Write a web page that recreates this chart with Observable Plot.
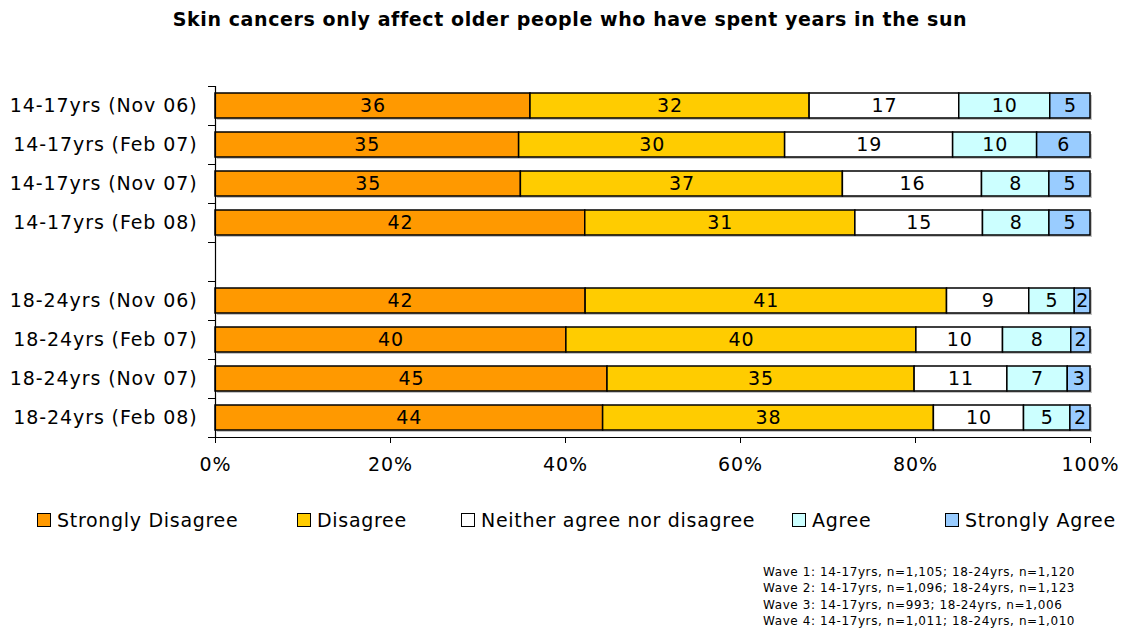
<!DOCTYPE html>
<html>
<head>
<meta charset="utf-8">
<script src="https://cdn.jsdelivr.net/npm/d3@7"></script>
<script src="https://cdn.jsdelivr.net/npm/@observablehq/plot@0.6"></script>
<style>
  html, body { margin: 0; padding: 0; background: #fff; }
  body { width: 1126px; height: 629px; position: relative; font-family: "DejaVu Sans", Verdana, sans-serif; color: #000; overflow: hidden; }
  #title { position: absolute; top: 8px; left: 0; width: 1140px; text-align: center; font-weight: bold; font-size: 19px; letter-spacing: 0.6px; }
  #chart { position: absolute; top: 40px; left: 0; }
  #legend { position: absolute; top: 506px; left: 0; width: 1126px; height: 28px; font-size: 19px; letter-spacing: 0.7px; }
  .item { position: absolute; top: 0; display: flex; align-items: center; height: 28px; }
  .sw { width: 12px; height: 12px; border: 1.5px solid #000; margin-right: 6px; }
  #caption { position: absolute; top: 564px; left: 763px; font-size: 12px; letter-spacing: 0.6px; line-height: 16.4px; }
  #chart svg text { letter-spacing: 0.9px; }
</style>
</head>
<body>
<div id="title"></div>
<div id="chart"></div>
<div id="legend"></div>
<div id="caption"></div>
<script>
const titleText = "Skin cancers only affect older people who have spent years in the sun";
const rows = [
  "14-17yrs (Nov 06)", "14-17yrs (Feb 07)", "14-17yrs (Nov 07)", "14-17yrs (Feb 08)",
  "18-24yrs (Nov 06)", "18-24yrs (Feb 07)", "18-24yrs (Nov 07)", "18-24yrs (Feb 08)"
];
const categories = ["Strongly Disagree", "Disagree", "Neither agree nor disagree", "Agree", "Strongly Agree"];
const colors = ["#FF9900", "#FFCC00", "#FFFFFF", "#CCFFFF", "#99CCFF"];
// percentages (labels show them rounded)
const stronglyDisagree = [36.0, 34.7, 34.9, 42.3, 42.3, 40.1, 44.8, 44.3];
const disagree        = [31.9, 30.4, 36.8, 30.9, 41.3, 40.0, 35.1, 37.8];
const neither         = [17.1, 19.2, 15.9, 14.6, 9.4, 9.9, 10.6, 10.3];
const agree           = [10.4, 9.6, 7.7, 7.6, 5.2, 7.8, 6.9, 5.3];
const stronglyAgree   = [4.6, 6.1, 4.7, 4.7, 1.8, 2.2, 2.6, 2.3];
const xTicks = [0, 0.2, 0.4, 0.6, 0.8, 1];
const captionLines = [
  "Wave 1: 14-17yrs, n=1,105; 18-24yrs, n=1,120",
  "Wave 2: 14-17yrs, n=1,096; 18-24yrs, n=1,123",
  "Wave 3: 14-17yrs, n=993; 18-24yrs, n=1,006",
  "Wave 4: 14-17yrs, n=1,011; 18-24yrs, n=1,010"
];

const series = [stronglyDisagree, disagree, neither, agree, stronglyAgree];
const data = [];
rows.forEach((r, i) => categories.forEach((c, j) => data.push({row: r, cat: c, value: series[j][i]})));
const totals = rows.map((r) => ({row: r, value: 1}));

const gap = " ";
const yDomain = [...rows.slice(0, 4), gap, ...rows.slice(4)];

const marginTop = 46, marginBottom = 46, height = 443;
const step = (height - marginTop - marginBottom) / yDomain.length;

const stackOpts = {x: "value", y: "row", z: "cat", offset: "normalize", order: categories};

const chart = Plot.plot({
  width: 1126,
  height,
  marginTop,
  marginBottom,
  marginLeft: 215,
  marginRight: 36,
  style: {fontFamily: "DejaVu Sans, Verdana, sans-serif", fontSize: "19px", color: "#000", background: "transparent"},
  x: {domain: [0, 1], axis: null, label: null},
  y: {domain: yDomain, paddingInner: 0.36, paddingOuter: 0.18, axis: null, label: null},
  color: {domain: categories, range: colors},
  marks: [
    Plot.barX(totals, {x: "value", y: "row", fill: "#c4c4c4", dx: 2, dy: 2}),
    Plot.barX(data, Plot.stackX({...stackOpts, fill: "cat", stroke: "#000", strokeWidth: 1.5})),
    Plot.text(data, Plot.stackX({...stackOpts, text: d => Math.round(d.value), fill: "#000", fontSize: 19})),
    Plot.frame({anchor: "left", stroke: "#000", strokeWidth: 1.2}),
    Plot.frame({anchor: "bottom", stroke: "#000", strokeWidth: 1.2}),
    Plot.axisY({tickSize: 0, tickPadding: 18, fontSize: 19, label: null, tickFormat: d => d === gap ? "" : d}),
    Plot.axisY({tickSize: 7, label: null, tickFormat: () => "", dy: -step / 2}),
    Plot.axisY({ticks: [yDomain[yDomain.length - 1]], tickSize: 7, label: null, tickFormat: () => "", dy: step / 2}),
    Plot.axisX({ticks: xTicks, tickSize: 6, tickPadding: 14, fontSize: 19, label: null, tickFormat: d3.format(".0%")})
  ]
});
document.getElementById("chart").appendChild(chart);
document.getElementById("title").textContent = titleText;

const legendLefts = [37, 297, 461, 792, 945];
const legend = document.getElementById("legend");
categories.forEach((c, i) => {
  const item = document.createElement("div");
  item.className = "item";
  item.style.left = legendLefts[i] + "px";
  const sw = document.createElement("div");
  sw.className = "sw";
  sw.style.background = colors[i];
  const t = document.createElement("span");
  t.textContent = c;
  item.appendChild(sw);
  item.appendChild(t);
  legend.appendChild(item);
});
document.getElementById("caption").innerHTML = captionLines.map(l => `<div>${l}</div>`).join("");
</script>
</body>
</html>
